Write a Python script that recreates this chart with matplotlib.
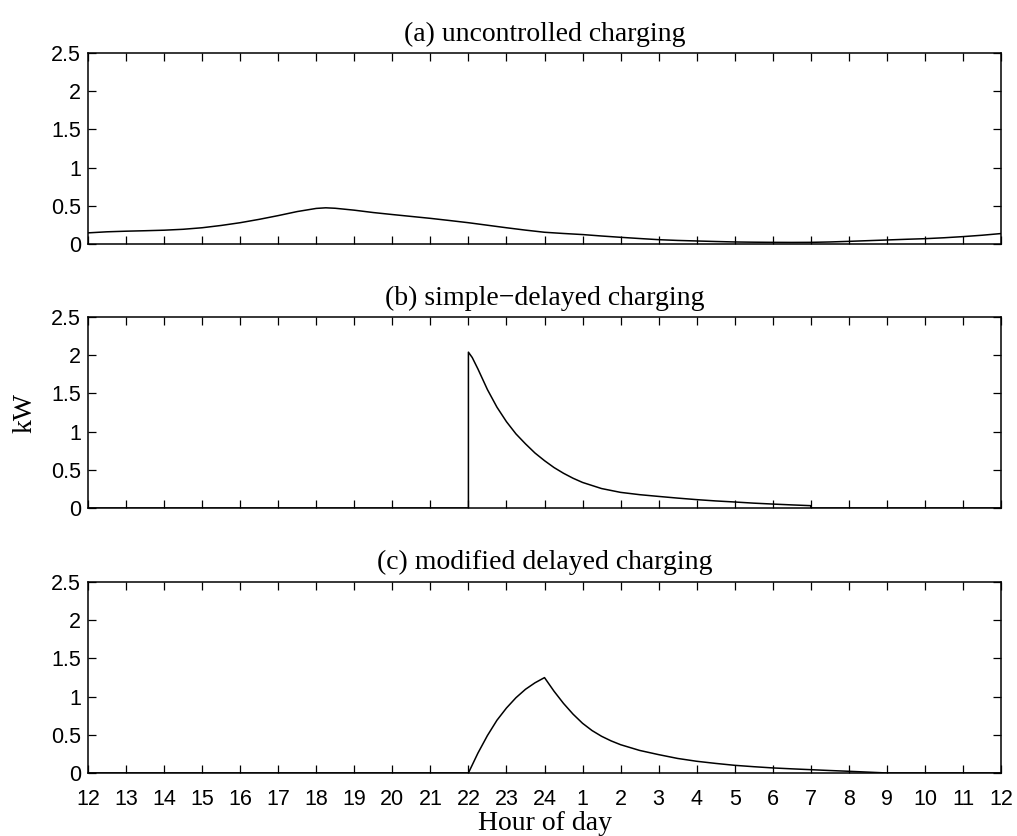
import matplotlib
matplotlib.use("Agg")
import matplotlib.pyplot as plt

# --- data (hours 12..36 = noon to next noon) ---
a_hours = [12, 12.5, 13, 13.5, 14, 14.5, 15, 15.5, 16, 16.5, 17, 17.5, 18, 18.25,
           18.5, 19, 19.5, 20, 20.5, 21, 21.5, 22, 22.5, 23, 23.5, 24, 24.5, 25,
           25.5, 26, 26.5, 27, 27.5, 28, 28.5, 29, 29.5, 30, 30.5, 31, 31.5, 32,
           32.5, 33, 33.5, 34, 34.5, 35, 35.5, 36]
a_kw = [0.146, 0.160, 0.168, 0.174, 0.181, 0.193, 0.213, 0.243, 0.279, 0.323,
        0.372, 0.425, 0.466, 0.474, 0.468, 0.443, 0.412, 0.386, 0.361, 0.336,
        0.308, 0.279, 0.246, 0.213, 0.182, 0.154, 0.138, 0.124, 0.105, 0.088,
        0.072, 0.057, 0.047, 0.040, 0.033, 0.027, 0.024, 0.022, 0.021, 0.022,
        0.027, 0.035, 0.044, 0.053, 0.062, 0.070, 0.082, 0.097, 0.115, 0.137]

b_hours = [12, 22, 22, 22.1, 22.25, 22.5, 22.75, 23, 23.25, 23.5, 23.75, 24,
           24.25, 24.5, 24.75, 25, 25.5, 26, 26.5, 27, 27.5, 28, 28.5, 29, 29.5,
           30, 30.5, 31, 31, 36]
b_kw = [0, 0, 2.04, 1.97, 1.82, 1.55, 1.32, 1.13, 0.97, 0.84, 0.72, 0.62,
        0.53, 0.455, 0.39, 0.335, 0.255, 0.205, 0.175, 0.152, 0.13, 0.11,
        0.093, 0.079, 0.064, 0.052, 0.041, 0.031, 0, 0]

c_hours = [12, 22, 22.25, 22.5, 22.75, 23, 23.25, 23.5, 23.75, 24, 24.25, 24.5,
           24.75, 25, 25.25, 25.5, 25.75, 26, 26.5, 27, 27.5, 28, 28.5, 29, 29.5,
           30, 30.5, 31, 31.5, 32, 32.5, 33, 36]
c_kw = [0, 0, 0.26, 0.49, 0.69, 0.85, 0.985, 1.095, 1.18, 1.248, 1.07, 0.91,
        0.77, 0.65, 0.555, 0.48, 0.42, 0.37, 0.295, 0.24, 0.19, 0.153, 0.125,
        0.1, 0.082, 0.066, 0.054, 0.043, 0.032, 0.022, 0.011, 0, 0]

titles = ["(a) uncontrolled charging",
          "(b) simple\u2212delayed charging",
          "(c) modified delayed charging"]

x_ticks = list(range(12, 37))
x_labels = [str(h if h <= 24 else h - 24) for h in x_ticks]
y_ticks = [0, 0.5, 1, 1.5, 2, 2.5]
y_labels = ["0", "0.5", "1", "1.5", "2", "2.5"]

SERIF = "Liberation Serif"
SANS = "Liberation Sans"

fig = plt.figure(figsize=(10.17, 8.36), dpi=100)
left, width = 0.0865, 0.8978
bottoms = [0.7081, 0.3923, 0.0754]
height = 0.2285

series = [(a_hours, a_kw), (b_hours, b_kw), (c_hours, c_kw)]
axes = []
for i, (xs, ys) in enumerate(series):
    ax = fig.add_axes([left, bottoms[i], width, height])
    ax.plot(xs, ys, color="black", linewidth=1.1)
    ax.set_xlim(12, 36)
    ax.set_ylim(0, 2.5)
    ax.set_xticks(x_ticks)
    ax.set_yticks(y_ticks)
    ax.set_yticklabels(y_labels, fontfamily=SANS, fontsize=15.5)
    if i == 2:
        ax.set_xticklabels(x_labels, fontfamily=SANS, fontsize=15.5)
    else:
        ax.set_xticklabels([])
    ax.tick_params(direction="in", length=6, width=0.9, top=True, right=True,
                   color="black")
    ax.tick_params(axis="x", pad=11.5)
    ax.tick_params(axis="y", pad=5)
    for s in ax.spines.values():
        s.set_linewidth(1.1)
    ax.set_title(titles[i], fontfamily=SERIF, fontsize=20, pad=9)
    axes.append(ax)

axes[1].set_ylabel("kW", fontfamily=SERIF, fontsize=20, labelpad=10)
axes[2].set_xlabel("Hour of day", fontfamily=SERIF, fontsize=20, labelpad=1)

fig.savefig("out.png", dpi=100)
